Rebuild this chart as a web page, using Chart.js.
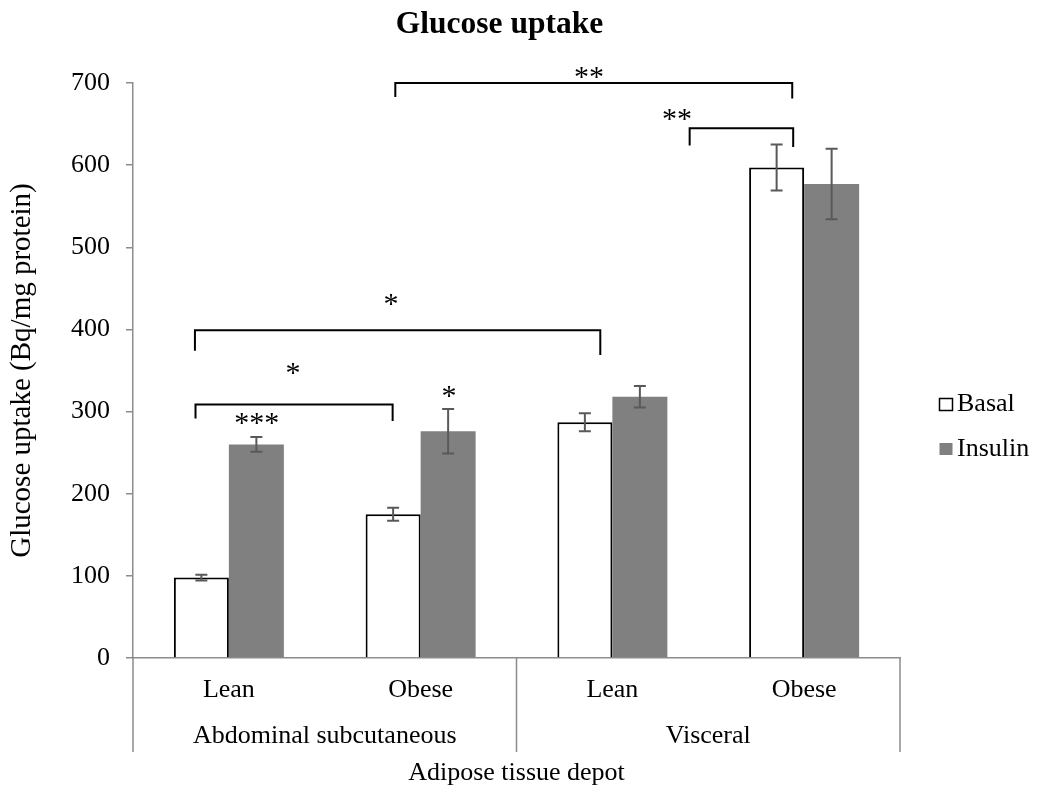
<!DOCTYPE html>
<html><head><meta charset="utf-8">
<script src="https://cdn.jsdelivr.net/npm/chart.js@4/dist/chart.umd.min.js"></script>
<style>html,body{margin:0;padding:0;background:#fff}#wrap{width:1037px;height:789px}</style>
</head><body><div id="wrap"><canvas id="c" width="1037" height="789"></canvas></div>
<script>
// ---- data ----
const categories = ['Lean', 'Obese', 'Lean', 'Obese'];
const groups = ['Abdominal subcutaneous', 'Visceral'];
const groupSpans = [[0, 1], [2, 3]];
const seriesNames = ['Basal', 'Insulin'];
const basal = [98, 175, 287, 597];
const basalErr = [3.5, 8, 11, 28];
const insulin = [260, 276, 318, 577];
const insulinErr = [9, 27, 13, 43];
const yMin = 0, yMax = 700, yStep = 100;
const chartTitle = 'Glucose uptake';
const yTitle = 'Glucose uptake (Bq/mg protein)';
const xTitle = 'Adipose tissue depot';
// significance brackets: [x start, x end (category index units), level, left drop, right drop]
const brackets = [
  [0.868, 2.938, 700, 683, 681],
  [2.403, 2.943, 645, 624, 622],
  [-0.177, 1.937, 399, 374, 369],
  [-0.174, 0.854, 308.5, 291.5, 288.5]
];
// significance marks: [text, x (category index units), y (value)]
const marks = [
  ['**', 1.878, 713],
  ['**', 2.337, 662],
  ['*', 0.845, 437],
  ['*', 0.334, 353],
  ['***', 0.145, 292],
  ['*', 1.148, 325]
];

const FONT = '"Liberation Serif", "Times New Roman", serif';
const AXIS_GRAY = '#8c8c8c';

const extras = {
  id: 'extras',
  afterDatasetsDraw(chart) {
    const ctx = chart.ctx, ys = chart.scales.y;
    ctx.save();
    chart.data.datasets.forEach((ds, i) => {
      const meta = chart.getDatasetMeta(i);
      meta.data.forEach((bar, j) => {
        const v = ds.data[j], e = ds.errors[j];
        const yT = ys.getPixelForValue(v + e), yB = ys.getPixelForValue(v - e);
        ctx.strokeStyle = '#595959';
        ctx.lineWidth = 2;
        ctx.beginPath();
        ctx.moveTo(bar.x, yT); ctx.lineTo(bar.x, yB);
        ctx.moveTo(bar.x - 6, yT); ctx.lineTo(bar.x + 6, yT);
        ctx.moveTo(bar.x - 6, yB); ctx.lineTo(bar.x + 6, yB);
        ctx.stroke();
      });
    });
    ctx.restore();
  },
  afterDraw(chart) {
    const ctx = chart.ctx, xs = chart.scales.x, ys = chart.scales.y, ca = chart.chartArea;
    ctx.save();
    // title
    ctx.fillStyle = '#000';
    ctx.font = 'bold 31.5px ' + FONT;
    ctx.textAlign = 'center';
    ctx.textBaseline = 'alphabetic';
    ctx.fillText(chartTitle, 499.5, 33);

    // group separators
    ctx.strokeStyle = AXIS_GRAY;
    ctx.lineWidth = 1.5;
    const sepBottom = ca.bottom + 94;
    const seps = [ca.left];
    groupSpans.forEach(s => seps.push(xs.getPixelForValue(s[1] + 0.5)));
    ctx.beginPath();
    seps.forEach(x => { ctx.moveTo(x, ca.bottom); ctx.lineTo(x, sepBottom); });
    ctx.stroke();

    // group labels
    ctx.fillStyle = '#000';
    ctx.font = '26px ' + FONT;
    ctx.textBaseline = 'middle';
    ctx.textAlign = 'center';
    groups.forEach((g, i) => {
      const x = (xs.getPixelForValue(groupSpans[i][0] - 0.5) + xs.getPixelForValue(groupSpans[i][1] + 0.5)) / 2;
      ctx.fillText(g, x, ca.bottom + 78);
    });

    // legend
    const legY = [404.5, 449];
    chart.data.datasets.forEach((ds, i) => {
      const bx = 939.5, by = legY[i] - 6;
      ctx.fillStyle = ds.backgroundColor;
      ctx.fillRect(bx, by, 13, 12);
      if (ds.borderWidth) {
        ctx.strokeStyle = ds.borderColor;
        ctx.lineWidth = 1.5;
        ctx.strokeRect(bx, by, 13, 12);
      }
      ctx.fillStyle = '#000';
      ctx.textAlign = 'left';
      ctx.textBaseline = 'middle';
      ctx.font = '26px ' + FONT;
      ctx.fillText(ds.label, 957, legY[i]);
    });

    // brackets
    ctx.strokeStyle = '#000';
    ctx.lineWidth = 2;
    brackets.forEach(b => {
      const x1 = xs.getPixelForValue(b[0]), x2 = xs.getPixelForValue(b[1]);
      const yl = ys.getPixelForValue(b[2]);
      ctx.beginPath();
      ctx.moveTo(x1, ys.getPixelForValue(b[3]));
      ctx.lineTo(x1, yl);
      ctx.lineTo(x2, yl);
      ctx.lineTo(x2, ys.getPixelForValue(b[4]));
      ctx.stroke();
    });

    // significance marks
    ctx.font = '30px ' + FONT;
    ctx.textAlign = 'center';
    ctx.textBaseline = 'alphabetic';
    ctx.fillStyle = '#000';
    marks.forEach(m => {
      const mt = ctx.measureText(m[0]);
      const yc = ys.getPixelForValue(m[2]);
      const base = yc + (mt.actualBoundingBoxAscent - mt.actualBoundingBoxDescent) / 2;
      ctx.fillText(m[0], xs.getPixelForValue(m[1]), base);
    });
    ctx.restore();
  }
};

new Chart(document.getElementById('c'), {
  type: 'bar',
  data: {
    labels: categories,
    datasets: [
      { label: seriesNames[0], data: basal, errors: basalErr, backgroundColor: '#ffffff', borderColor: '#000000', borderWidth: 2, categoryPercentage: 0.5737, barPercentage: 1.0 },
      { label: seriesNames[1], data: insulin, errors: insulinErr, backgroundColor: '#808080', borderWidth: 0, categoryPercentage: 0.5737, barPercentage: 1.0 }
    ]
  },
  options: {
    responsive: false,
    devicePixelRatio: 1,
    animation: false,
    events: [],
    layout: { padding: { left: 0, right: 137, top: 83, bottom: 0 } },
    plugins: { legend: { display: false }, title: { display: false }, tooltip: { enabled: false } },
    scales: {
      x: {
        type: 'category',
        offset: true,
        grid: { display: false, drawTicks: false },
        border: { display: true, color: AXIS_GRAY, width: 1.5 },
        ticks: { color: '#000', font: { family: FONT, size: 26 }, padding: 17, maxRotation: 0, autoSkip: false },
        title: { display: true, text: xTitle, color: '#000', font: { family: FONT, size: 26 }, padding: { top: 0, bottom: 0 } },
        afterFit(s) { s.height = 131; }
      },
      y: {
        min: yMin, max: yMax,
        ticks: { stepSize: yStep, color: '#000', font: { family: FONT, size: 26 }, padding: 16 },
        grid: { drawOnChartArea: false, drawTicks: true, tickLength: 7, color: AXIS_GRAY, lineWidth: 1.5 },
        border: { display: true, color: AXIS_GRAY, width: 1.5 },
        title: { display: true, text: yTitle, color: '#000', font: { family: FONT, size: 29 }, padding: { top: 5, bottom: 0 } },
        afterFit(s) { s.width = 133; }
      }
    }
  },
  plugins: [extras]
});
</script>
</body></html>
